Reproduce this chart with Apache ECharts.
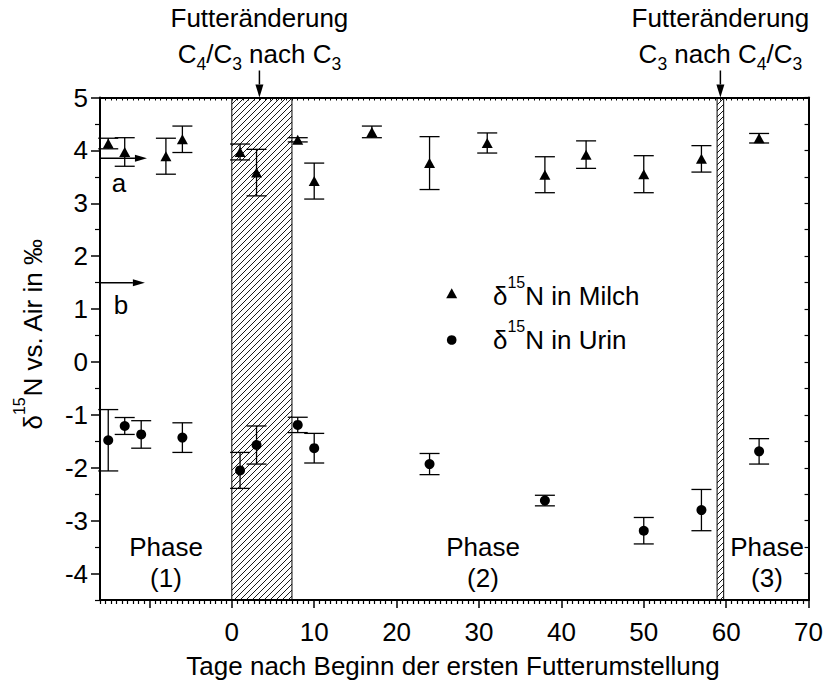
<!DOCTYPE html>
<html><head><meta charset="utf-8">
<script src="https://cdn.jsdelivr.net/npm/echarts@6/dist/echarts.min.js"></script>
<style>html,body{margin:0;padding:0;background:#fff}#c{width:826px;height:686px}</style>
</head><body><div id="c"></div>
<script>
// ---- data ----
const milchDays   = [-15, -13, -8, -6, 1, 3, 8, 10, 17, 24, 31, 38, 43, 50, 57, 64];
const milchValues = [4.13, 3.97, 3.89, 4.21, 3.97, 3.58, 4.20, 3.42, 4.35, 3.76, 4.14, 3.54, 3.92, 3.55, 3.84, 4.23];
const milchErrors = [0.10, 0.27, 0.34, 0.25, 0.15, 0.44, 0.04, 0.34, 0.11, 0.50, 0.19, 0.34, 0.26, 0.35, 0.25, 0.09];
const urinDays    = [-15, -13, -11, -6, 1, 3, 8, 10, 24, 38, 50, 57, 64];
const urinValues  = [-1.48, -1.21, -1.37, -1.43, -2.05, -1.57, -1.19, -1.63, -1.93, -2.62, -3.19, -2.80, -1.69];
const urinErrors  = [0.58, 0.16, 0.26, 0.28, 0.34, 0.36, 0.145, 0.28, 0.20, 0.10, 0.25, 0.39, 0.24];
const xTickLabels = [0, 10, 20, 30, 40, 50, 60, 70];
const xMajorTicks = [-10, 0, 10, 20, 30, 40, 50, 60, 70];
const yTickLabels = [-4, -3, -2, -1, 0, 1, 2, 3, 4, 5];
const feedBands   = [[0, 7.3], [58.9, 59.7]];
const feedArrowDays = [3.35, 59.3];
const seriesNames = ['Milch', 'Urin'];

// ---- tick helper lists ----
const X_MIN = -16, X_MAX = 70, Y_MIN = -4.5, Y_MAX = 5;
const xMinor = [];
for (let m = -20; m < 70; m += 10) for (let k = 1; k < 15; k++) {
  const v = +(m + k * 10 / 15).toFixed(4);
  if (v >= X_MIN && v <= X_MAX) xMinor.push(v);
}
const yMinor = [], yAll = [];
for (let v = -4.5; v <= 5.001; v += 0.5) { yAll.push(+v.toFixed(1)); if (Math.abs(v % 1) > 0.1) yMinor.push(+v.toFixed(1)); }

const FONT = '"Liberation Sans", Arial, sans-serif';
const FS = 26;
const BLACK = '#000';

// hatch pattern
const pc = document.createElement('canvas'); pc.width = 6; pc.height = 6;
const g = pc.getContext('2d'); g.strokeStyle = BLACK; g.lineWidth = 0.9;
g.beginPath(); g.moveTo(-1, 7); g.lineTo(7, -1); g.moveTo(-1, 1); g.lineTo(1, -1); g.moveTo(5, 7); g.lineTo(7, 5); g.stroke();
const hatch = pc.toDataURL();

const chart = echarts.init(document.getElementById('c'), null, {renderer: 'svg', width: 826, height: 686});

function errorSeries(days, vals, errs) {
  return {
    type: 'custom', xAxisIndex: 0, yAxisIndex: 0, z: 2, silent: true,
    data: days.map((d, i) => [d, vals[i] - errs[i], vals[i] + errs[i]]),
    renderItem(params, api) {
      const lo = api.coord([api.value(0), api.value(1)]);
      const hi = api.coord([api.value(0), api.value(2)]);
      const hw = 10, st = {stroke: BLACK, lineWidth: 1.3};
      return {type: 'group', children: [
        {type: 'line', shape: {x1: lo[0], y1: lo[1], x2: hi[0], y2: hi[1]}, style: st},
        {type: 'line', shape: {x1: lo[0] - hw, y1: lo[1], x2: lo[0] + hw, y2: lo[1]}, style: st},
        {type: 'line', shape: {x1: hi[0] - hw, y1: hi[1], x2: hi[0] + hw, y2: hi[1]}, style: st}
      ]};
    }
  };
}

const xBase = {type: 'value', min: X_MIN, max: X_MAX, splitLine: {show: false}};
const yBase = {type: 'value', min: Y_MIN, max: Y_MAX, splitLine: {show: false}};
const tickStyle = w => ({color: BLACK, width: w});

chart.setOption({
  animation: false,
  backgroundColor: '#fff',
  grid: {left: 100, top: 97.5, width: 709, height: 502.5},
  xAxis: [
    Object.assign({}, xBase, {position: 'bottom',
      axisLine: {show: true, onZero: false, lineStyle: tickStyle(2)},
      axisTick: {show: true, length: 8, customValues: xMajorTicks, lineStyle: tickStyle(1.5)},
      axisLabel: {show: true, customValues: xTickLabels, margin: 19, color: BLACK, fontSize: FS, fontFamily: FONT}}),
    Object.assign({}, xBase, {position: 'bottom',
      axisLine: {show: false, onZero: false},
      axisTick: {show: true, length: 4, customValues: xMinor, lineStyle: tickStyle(1.2)},
      axisLabel: {show: false}}),
    Object.assign({}, xBase, {position: 'top',
      axisLine: {show: true, onZero: false, lineStyle: tickStyle(2)},
      axisTick: {show: true, inside: true, length: 3, customValues: xMajorTicks.concat(xMinor), lineStyle: tickStyle(1)},
      axisLabel: {show: false}})
  ],
  yAxis: [
    Object.assign({}, yBase, {position: 'left',
      axisLine: {show: true, onZero: false, lineStyle: tickStyle(2)},
      axisTick: {show: true, length: 9, customValues: yTickLabels, lineStyle: tickStyle(1.5)},
      axisLabel: {show: true, customValues: yTickLabels, margin: 12, color: BLACK, fontSize: FS, fontFamily: FONT}}),
    Object.assign({}, yBase, {position: 'left',
      axisLine: {show: false, onZero: false},
      axisTick: {show: true, length: 5, customValues: yMinor, lineStyle: tickStyle(1.2)},
      axisLabel: {show: false}}),
    Object.assign({}, yBase, {position: 'right',
      axisLine: {show: true, onZero: false, lineStyle: tickStyle(2)},
      axisTick: {show: true, inside: true, length: 4, customValues: yAll, lineStyle: tickStyle(1.2)},
      axisLabel: {show: false}})
  ],
  series: [
    {type: 'line', name: 'bands', data: [], xAxisIndex: 0, yAxisIndex: 0, z: 1, silent: true,
      markArea: {silent: true,
        itemStyle: {color: {image: hatch, repeat: 'repeat'}, borderColor: BLACK, borderWidth: 1},
        data: feedBands.map(b => [{xAxis: b[0]}, {xAxis: b[1]}])}},
    errorSeries(milchDays, milchValues, milchErrors),
    errorSeries(urinDays, urinValues, urinErrors),
    {type: 'scatter', name: seriesNames[0], xAxisIndex: 0, yAxisIndex: 0, z: 3,
      symbol: 'triangle', symbolSize: [11, 10], itemStyle: {color: BLACK, opacity: 1},
      data: milchDays.map((d, i) => [d, milchValues[i]])},
    {type: 'scatter', name: seriesNames[1], xAxisIndex: 0, yAxisIndex: 0, z: 3,
      symbol: 'circle', symbolSize: 10, itemStyle: {color: BLACK, opacity: 1},
      data: urinDays.map((d, i) => [d, urinValues[i]])}
  ]
});

// ---- annotations ----
const px = (x, y) => chart.convertToPixel({xAxisIndex: 0, yAxisIndex: 0}, [x, y]);
function arrow(x1, y1, x2, y2, headLen, headW) {
  const dx = x2 - x1, dy = y2 - y1, L = Math.hypot(dx, dy), ux = dx / L, uy = dy / L;
  const bx = x2 - ux * headLen, by = y2 - uy * headLen;
  return [
    {type: 'line', shape: {x1, y1, x2: bx, y2: by}, style: {stroke: BLACK, lineWidth: 1.5}, z: 10},
    {type: 'polygon', shape: {points: [[x2, y2], [bx - uy * headW / 2, by + ux * headW / 2], [bx + uy * headW / 2, by - ux * headW / 2]]},
      style: {fill: BLACK}, z: 10}
  ];
}
const richStyles = {
  m: {fontSize: FS, fontFamily: FONT, lineHeight: 46, fill: BLACK},
  s: {fontSize: 17.5, fontFamily: FONT, lineHeight: 18, padding: [20, 0, 0, 0], fill: BLACK},
  u: {fontSize: 16, fontFamily: FONT, lineHeight: 16, padding: [0, 0, 27, 0], fill: BLACK}
};
function txt(x, y, text, opt) {
  opt = opt || {};
  return {type: 'text', x, y, rotation: opt.rotation || 0, z: 12,
    style: {text, fill: BLACK, font: (opt.fs || FS) + 'px ' + FONT, align: opt.align || 'center', verticalAlign: 'middle',
      rich: richStyles}};
}
const els = [];
const topY = px(0, Y_MAX)[1];
const feedTexts = ['{m|C}{s|4}{m|/C}{s|3}{m| nach C}{s|3}', '{m|C}{s|3}{m| nach C}{s|4}{m|/C}{s|3}'];
feedArrowDays.forEach((d, i) => {
  const xp = px(d, Y_MAX)[0];
  els.push(...arrow(xp, topY - 27, xp, topY, 13, 8));
  els.push(txt(xp, 18, 'Futteränderung'));
  els.push(txt(xp, 53.5, feedTexts[i]));
});
// arrows a and b
const aStart = px(X_MIN, 3.85), aEnd = px(-10.3, 3.85);
els.push(...arrow(aStart[0], aStart[1], aEnd[0], aEnd[1], 12, 7));
const bStart = px(X_MIN, 1.5), bEnd = px(-10.55, 1.5);
els.push(...arrow(bStart[0], bStart[1], bEnd[0], bEnd[1], 12, 7));
els.push(txt(119, 183, 'a'));
els.push(txt(121, 305, 'b'));
// phases
[[166, '(1)'], [483, '(2)'], [767, '(3)']].forEach(p => {
  els.push(txt(p[0], 547, 'Phase'));
  els.push(txt(p[0], 578, p[1]));
});
// legend
els.push({type: 'polygon', shape: {points: [[451.7, 288.3], [457.2, 298.3], [446.2, 298.3]]}, style: {fill: BLACK}, z: 12});
els.push({type: 'circle', shape: {cx: 451.7, cy: 340, r: 4.8}, style: {fill: BLACK}, z: 12});
els.push(txt(493, 296, '{m|δ}{u|15}{m|N in Milch}', {align: 'left'}));
els.push(txt(493, 340, '{m|δ}{u|15}{m|N in Urin}', {align: 'left'}));
// axis titles
els.push(txt(453, 666, 'Tage nach Beginn der ersten Futterumstellung'));
els.push(txt(33, 334, '{m|δ}{u|15}{m|N vs. Air in ‰}', {rotation: Math.PI / 2}));
chart.setOption({graphic: {elements: els}});
</script></body></html>
